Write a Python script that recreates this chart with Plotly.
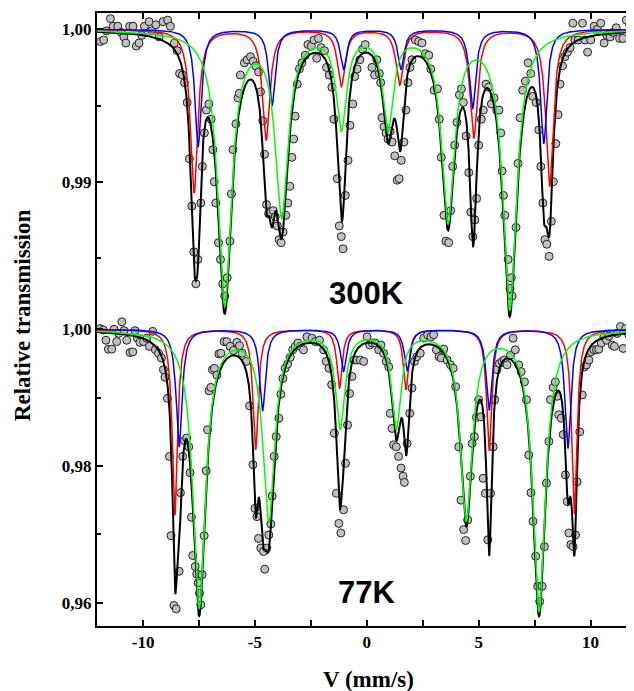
import numpy as np
import plotly.graph_objects as go

# ---------------- experimental points, 300 K (velocity mm/s, relative transmission)
top_v = [-11.91,-11.76,-11.64,-11.46,-11.34,-11.13,-10.98,-10.86,-10.77,-10.60,-10.45,-10.30,-10.18,-10.06,-9.94,-9.73,-9.61,-9.43,-9.28,-9.11,-8.90,-8.78,-8.60,-8.48,-8.37,-8.24,-8.15,-8.03,-7.93,-7.82,-7.73,-7.64,-7.55,-7.42,-7.35,-7.26,-7.17,-7.06,-6.96,-6.88,-6.82,-6.75,-6.63,-6.54,-6.44,-6.35,-6.24,-6.12,-6.05,-5.98,
         -5.85,-5.76,-5.70,-5.65,-5.47,-5.35,-5.20,-5.08,-4.96,-4.84,-4.75,-4.65,-4.57,-4.48,-4.39,-4.30,-4.18,-4.09,-4.00,-3.92,-3.83,-3.74,-3.62,-3.53,-3.44,-3.35,-3.27,-3.20,-3.11,-3.01,-2.90,-2.75,-2.63,-2.48,-2.36,-2.24,-2.16,-2.04,-1.89,-1.80,-1.68,-1.56,-1.47,-1.32,-1.23,-1.14,-1.06,-0.96,-0.84,-0.75,-0.63,-0.54,-0.43,-0.31,-0.19,-0.07,
         0.23,0.35,0.45,0.56,0.62,0.68,0.77,0.86,0.95,1.04,1.13,1.25,1.36,1.45,1.54,1.66,1.75,1.84,1.93,2.02,2.17,2.32,2.47,2.62,2.77,2.86,3.01,3.16,3.24,3.33,3.45,3.54,3.66,3.75,3.84,3.93,4.03,4.14,4.23,4.32,4.44,4.56,4.65,4.74,4.83,4.91,5.00,5.12,5.21,5.33,5.45,5.57,5.69,5.81,
         5.91,5.99,6.05,6.11,6.17,6.32,6.40,6.46,6.50,6.67,6.76,6.85,6.97,7.09,7.21,7.33,7.42,7.57,7.69,7.78,7.87,7.96,8.05,8.15,8.25,8.34,8.45,8.55,8.64,8.75,8.85,8.97,9.09,9.21,9.30,9.45,9.64,9.75,9.87,10.01,10.16,10.31,10.46,10.61,10.73,10.88,11.00,11.15,11.30,11.45,11.60,11.75,11.85]
top_t = [0.9992,0.9993,0.9999,1.0007,1.0002,1.0002,0.9998,0.9995,0.9991,1.0002,1.0002,0.9989,0.9991,0.9996,1.0002,1.0005,0.9999,1.0003,0.9995,1.0005,1.0006,1.0002,0.9991,0.9986,0.9971,0.9970,0.9965,0.9952,0.9915,0.9884,0.9854,0.9833,0.9849,0.9886,0.9910,0.9932,0.9947,0.9951,0.9941,0.9921,0.9900,0.9886,0.9860,0.9849,0.9833,0.9825,0.9837,0.9861,0.9892,0.9921,
         0.9938,0.9955,0.9958,0.9970,0.9978,0.9980,0.9982,0.9979,0.9976,0.9972,0.9959,0.9940,0.9918,0.9885,0.9879,0.9880,0.9881,0.9877,0.9871,0.9862,0.9860,0.9867,0.9878,0.9886,0.9897,0.9916,0.9928,0.9943,0.9964,0.9974,0.9978,0.9983,0.9990,0.9989,0.9993,0.9981,0.9994,0.9988,0.9986,0.9975,0.9970,0.9962,0.9941,0.9902,0.9871,0.9864,0.9856,0.9891,0.9914,0.9937,0.9951,0.9969,0.9974,0.9980,0.9987,0.9990,
         0.9975,0.9970,0.9980,0.9971,0.9965,0.9942,0.9936,0.9932,0.9928,0.9933,0.9926,0.9917,0.9901,0.9902,0.9914,0.9926,0.9947,0.9965,0.9975,0.9980,0.9993,0.9992,0.9991,0.9984,0.9983,0.9974,0.9960,0.9961,0.9941,0.9916,0.9878,0.9861,0.9860,0.9881,0.9910,0.9924,0.9939,0.9957,0.9961,0.9952,0.9930,0.9906,0.9880,0.9864,0.9875,0.9889,0.9924,0.9941,0.9947,0.9964,0.9962,0.9951,0.9955,0.9947,
         0.9947,0.9932,0.9907,0.9891,0.9878,0.9849,0.9830,0.9837,0.9825,0.9870,0.9912,0.9942,0.9960,0.9966,0.9978,0.9971,0.9956,0.9952,0.9934,0.9910,0.9886,0.9862,0.9859,0.9851,0.9874,0.9900,0.9925,0.9944,0.9964,0.9976,0.9982,0.9985,0.9988,1.0004,0.9993,0.9993,1.0004,0.9993,0.9985,0.9993,1.0002,1.0000,1.0004,0.9991,0.9996,0.9995,0.9998,1.0001,0.9994,0.9994,1.0006,1.0003,0.9999]

# ---------------- experimental points, 77 K
bot_v = [-11.92,-11.78,-11.66,-11.55,-11.40,-11.30,-11.18,-11.09,-10.95,-10.85,-10.73,-10.58,-10.46,-10.36,-10.25,-10.14,-9.98,-9.84,-9.72,-9.57,-9.45,-9.31,-9.18,-9.09,-9.02,-8.91,-8.82,-8.75,-8.62,-8.52,-8.39,-8.33,-8.23,-8.15,-8.05,-7.96,-7.90,-7.84,-7.78,-7.67,-7.60,-7.54,-7.48,-7.42,-7.36,-7.27,-7.18,-7.12,-7.05,-6.97,-6.90,-6.81,-6.70,-6.61,-6.52,-6.38,-6.26,-6.11,-5.96,-5.81,-5.69,-5.57,-5.39,-5.24,-5.09,-5.00,-4.91,-4.84,-4.74,-4.62,-4.56,-4.47,-4.38,-4.29,-4.23,-4.14,-4.05,-3.93,-3.84,-3.75,-3.65,-3.54,-3.42,-3.31,-3.20,-3.08,-2.97,-2.83,-2.68,
         -2.45,-2.30,-2.11,-1.93,-1.81,-1.69,-1.57,-1.45,-1.36,-1.25,-1.16,-1.04,-0.95,-0.86,-0.77,-0.66,-0.56,-0.44,-0.29,-0.14,0.01,0.13,0.25,0.38,0.53,0.63,0.75,0.87,0.98,1.05,1.13,1.20,1.32,1.42,1.53,1.62,1.68,1.80,1.92,2.02,2.13,2.24,2.39,2.54,2.72,2.87,2.99,3.11,3.23,3.33,3.44,3.59,3.74,3.86,3.97,4.11,4.21,4.33,4.42,4.51,4.63,4.71,4.81,4.90,5.00,5.11,5.20,5.30,5.41,5.53,5.65,5.72,5.82,5.93,6.05,6.15,6.27,6.42,6.54,6.64,6.79,6.90,7.05,7.14,7.24,7.34,7.43,7.55,7.64,7.73,7.84,7.94,8.03,8.14,8.21,8.33,8.43,8.51,8.58,8.69,8.78,8.88,8.96,9.03,9.12,9.22,9.33,9.40,9.52,9.63,9.73,9.82,9.93,10.03,10.15,10.27,10.37,10.48,10.60,10.72,10.82,10.97,11.07,11.19,11.34,11.46,11.57,11.71,11.86]
bot_t = [1.0001,0.9999,0.9984,0.9971,0.9971,1.0000,0.9982,0.9994,1.0011,0.9998,0.9984,0.9966,0.9967,0.9998,0.9987,0.9981,0.9982,0.9987,0.9975,0.9997,0.9970,0.9965,0.9958,0.9941,0.9930,0.9899,0.9814,0.9698,0.9596,0.9591,0.9646,0.9761,0.9814,0.9837,0.9841,0.9828,0.9790,0.9725,0.9669,0.9653,0.9642,0.9629,0.9614,0.9597,0.9641,0.9698,0.9793,0.9853,0.9910,0.9915,0.9941,0.9943,0.9933,0.9964,0.9965,0.9982,0.9982,0.9975,0.9969,0.9981,0.9976,0.9965,0.9953,0.9888,0.9802,0.9738,0.9726,0.9694,0.9680,0.9675,0.9649,0.9680,0.9699,0.9715,0.9756,0.9814,0.9843,0.9870,0.9905,0.9928,0.9943,0.9949,0.9959,0.9970,0.9975,0.9980,0.9975,0.9970,0.9989,
         0.9987,0.9982,0.9984,0.9970,0.9953,0.9943,0.9919,0.9848,0.9760,0.9716,0.9702,0.9736,0.9804,0.9860,0.9906,0.9931,0.9955,0.9955,0.9955,0.9953,0.9989,0.9977,0.9980,0.9980,0.9970,0.9977,0.9965,0.9953,0.9945,0.9877,0.9855,0.9831,0.9828,0.9814,0.9797,0.9785,0.9776,0.9833,0.9877,0.9914,0.9953,0.9960,0.9965,0.9987,0.9992,0.9989,0.9992,0.9970,0.9960,0.9958,0.9971,0.9955,0.9948,0.9943,0.9916,0.9828,0.9750,0.9707,0.9691,0.9721,0.9785,0.9833,0.9843,0.9871,0.9897,0.9872,0.9782,0.9760,0.9692,0.9760,0.9828,0.9897,0.9941,0.9950,0.9953,0.9955,0.9948,0.9962,0.9987,0.9970,0.9948,0.9938,0.9923,0.9897,0.9816,0.9761,0.9719,0.9668,0.9624,0.9602,0.9624,0.9682,0.9775,0.9836,0.9897,0.9915,0.9923,0.9902,0.9875,0.9870,0.9846,0.9787,0.9748,0.9702,0.9685,0.9682,0.9699,0.9777,0.9850,0.9904,0.9945,0.9948,0.9955,0.9967,0.9970,0.9970,0.9971,0.9980,0.9989,0.9984,0.9990,0.9977,0.9975,0.9994,1.0004,0.9972,1.0001,0.9992,0.9980]

# ---------------- sextet fit components: line positions (mm/s), depths, half-widths (mm/s)
top_red_pos = [-7.72, -4.50, -1.14, 1.47, 4.78, 8.17]
top_red_depth = [0.0107, 0.0072, 0.0037, 0.0036, 0.0071, 0.0103]
top_red_hw = [0.20, 0.20, 0.20, 0.20, 0.20, 0.20]
top_blue_pos = [-7.54, -4.24, -1.04, 1.53, 4.73, 7.91]
top_blue_depth = [0.0077, 0.0050, 0.0026, 0.0026, 0.0052, 0.0075]
top_blue_hw = [0.17, 0.17, 0.17, 0.17, 0.17, 0.17]
top_green_pos = [-6.35, -3.80, -1.14, 0.95, 3.63, 6.39]
top_green_depth = [0.0179, 0.0119, 0.0062, 0.0062, 0.0123, 0.0182]
top_green_hw = [0.37, 0.35, 0.28, 0.28, 0.35, 0.37]

bot_red_pos = [-8.58, -4.97, -1.22, 1.75, 5.47, 9.28]
bot_red_depth = [0.0272, 0.0176, 0.0086, 0.0088, 0.0177, 0.0270]
bot_red_hw = [0.14, 0.14, 0.14, 0.14, 0.14, 0.14]
bot_blue_pos = [-8.39, -4.66, -1.04, 1.81, 5.47, 8.99]
bot_blue_depth = [0.0172, 0.0119, 0.0061, 0.0060, 0.0118, 0.0174]
bot_blue_hw = [0.16, 0.16, 0.16, 0.16, 0.16, 0.16]
bot_green_pos = [-7.49, -4.38, -1.19, 1.32, 4.45, 7.70]
bot_green_depth = [0.0405, 0.0276, 0.0140, 0.0140, 0.0275, 0.0410]
bot_green_hw = [0.34, 0.32, 0.25, 0.25, 0.32, 0.34]

x_ticks = [-10, -5, 0, 5, 10]
x_ticktext = ["-10", "-5", "0", "5", "10"]
top_yticks = [0.99, 1.00]
top_yticktext = ["0,99", "1,00"]
bot_yticks = [0.96, 0.98, 1.00]
bot_yticktext = ["0,96", "0,98", "1,00"]

v_grid = np.linspace(-12.1, 12.0, 2411)


def absorption(pos, depth, hw):
    out = np.zeros_like(v_grid)
    for p, d, g in zip(pos, depth, hw):
        out += d / (1.0 + ((v_grid - p) / g) ** 2)
    return out


fig = go.Figure()

panels = [
    ("y2", top_v, top_t, (top_red_pos, top_red_depth, top_red_hw),
     (top_blue_pos, top_blue_depth, top_blue_hw), (top_green_pos, top_green_depth, top_green_hw)),
    ("y", bot_v, bot_t, (bot_red_pos, bot_red_depth, bot_red_hw),
     (bot_blue_pos, bot_blue_depth, bot_blue_hw), (bot_green_pos, bot_green_depth, bot_green_hw)),
]

for yax, vv, tt, red, blue, green in panels:
    a_r = absorption(*red)
    a_b = absorption(*blue)
    a_g = absorption(*green)
    fig.add_trace(go.Scatter(x=vv, y=tt, mode="markers", yaxis=yax,
                             marker=dict(size=8, color="#C0C0C0", line=dict(color="#222222", width=1))))
    fig.add_trace(go.Scatter(x=v_grid, y=1 - (a_r + a_b + a_g), mode="lines", yaxis=yax,
                             line=dict(color="black", width=2)))
    fig.add_trace(go.Scatter(x=v_grid, y=1 - a_r, mode="lines", yaxis=yax,
                             line=dict(color="#FF0000", width=1.5)))
    fig.add_trace(go.Scatter(x=v_grid, y=1 - a_b, mode="lines", yaxis=yax,
                             line=dict(color="#0000FF", width=1.5)))
    fig.add_trace(go.Scatter(x=v_grid, y=1 - a_g, mode="lines", yaxis=yax,
                             line=dict(color="#00FF00", width=1.5)))

tickfont = dict(family="Liberation Serif", size=17, color="black", weight="bold")
axis_common = dict(showline=True, linewidth=2, linecolor="black", mirror="allticks",
                   ticks="inside", ticklen=6, tickwidth=1.5, tickcolor="black",
                   showgrid=False, zeroline=False, tickfont=tickfont, automargin=False)

# the page body adds an 8 px offset, so the figure is 8 px smaller on each side
fig.update_layout(
    width=626, height=683,
    margin=dict(l=89, r=1, t=5, b=65, autoexpand=False),
    plot_bgcolor="white", paper_bgcolor="white",
    showlegend=False,
    xaxis=dict(range=[-12.06, 11.9], tickmode="array", tickvals=x_ticks, ticktext=x_ticktext,
               minor=dict(tickvals=[-7.5, -2.5, 2.5, 7.5], ticks="inside", ticklen=4,
                          tickcolor="black", tickwidth=1.5, showgrid=False),
               **axis_common),
    yaxis=dict(range=[0.95659, 1.04628], tickmode="array", tickvals=bot_yticks, ticktext=bot_yticktext,
               minor=dict(tickvals=[0.97, 0.99], ticks="inside", ticklen=4,
                          tickcolor="black", tickwidth=1.5, showgrid=False),
               **axis_common),
    yaxis2=dict(range=[0.96085, 1.00107], overlaying="y", side="left", anchor="x",
                tickmode="array", tickvals=top_yticks, ticktext=top_yticktext,
                minor=dict(tickvals=[0.985, 0.995], ticks="inside", ticklen=4,
                           tickcolor="black", tickwidth=1.5, showgrid=False),
                **axis_common),
    annotations=[
        dict(text="Relative transmission", xref="paper", yref="paper", x=-0.140, y=0.507,
             textangle=-90, showarrow=False, xanchor="center", yanchor="middle",
             font=dict(family="Liberation Serif", size=23, color="black", weight="bold")),
        dict(text="V (mm/s)", xref="paper", yref="paper", x=0.5065, y=-0.088,
             showarrow=False, xanchor="center", yanchor="middle",
             font=dict(family="Liberation Serif", size=23, color="black", weight="bold")),
        dict(text="300K", xref="paper", yref="paper", x=0.502, y=0.5424,
             showarrow=False, xanchor="center", yanchor="middle",
             font=dict(family="Liberation Sans", size=31, color="black", weight="bold")),
        dict(text="77K", xref="paper", yref="paper", x=0.503, y=0.0546,
             showarrow=False, xanchor="center", yanchor="middle",
             font=dict(family="Liberation Sans", size=31, color="black", weight="bold")),
    ],
)

fig.write_html("out.html")
